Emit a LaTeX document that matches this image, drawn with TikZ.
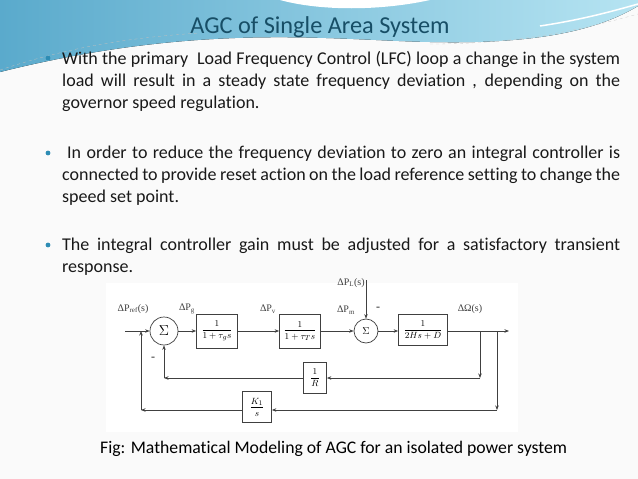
\documentclass[tikz,border=0pt]{standalone}
\usepackage{amsmath}
\usepackage{fontspec}
\setmainfont{Carlito}[Ligatures=NoCommon]
\newfontfamily\figfont{Liberation Serif}
\usetikzlibrary{arrows.meta, calc, positioning}
\definecolor{titleblue}{RGB}{23,78,102}
\definecolor{bulletblue}{RGB}{45,140,180}
\definecolor{waveleft}{RGB}{90,170,204}
\definecolor{waveright}{RGB}{182,228,242}
\definecolor{bodytext}{RGB}{25,25,25}

\begin{document}
\begin{tikzpicture}[x=1pt, y=-1pt,
    blk/.style={draw=black!75, line width=0.7pt, minimum width=41pt, minimum height=34pt, inner sep=0pt, font=\fontsize{9.5}{11}\selectfont},
    sumnode/.style={draw=black!75, line width=0.7pt, circle, minimum size=28pt, inner sep=0pt},
    sig/.style={font=\figfont\fontsize{10}{11}\selectfont, text=black!75, inner sep=0pt},
    wire/.style={line width=0.7pt, draw=black!75, -{Stealth[length=4.5pt, width=3.5pt]}},
    bullet/.style={circle, fill=bulletblue, inner sep=0pt, minimum size=4.8pt},
    bodyline/.style={anchor=base west, inner sep=0pt, font=\fontsize{18}{22}\selectfont, text=bodytext}]
             % slide and header wave
             \useasboundingbox (0,0) rectangle (638,479);
             \fill[black!2] (0,0) rectangle (638,479);
             \fill[left color=waveleft, right color=waveright] (0,0) -- (638,0) -- (638,6) .. controls (590,35) and (520,44) .. (430,42) .. controls (330,40) and (200,22) .. (0,72) -- cycle;
             \fill[white] (280,0) .. controls (320,11) and (380,11) .. (430,0) -- cycle;
             \draw[white, line width=1.5pt] (540,26) .. controls (580,20) and (610,12) .. (638,4);
             \draw[black!25, line width=0.3pt, dashed] (0,70) .. controls (60,50) and (120,38) .. (200,33);
             \draw[black!20, line width=0.3pt, dashed] (430,44) .. controls (520,44) and (580,30) .. (638,14);
             \node[anchor=base, font=\fontsize{24.3}{28}\selectfont, text=titleblue, inner sep=0pt] (title) at (320,34) {AGC of Single Area System};

             % bullet text
             \node[bullet] (dot1) at (48,58) {};
             \node[bodyline] (l11) at (62,64) {\makebox[558pt][s]{With the primary \ Load Frequency Control (LFC) loop a change in the system}};
             \node[bodyline] (l12) at (62,86) {\makebox[558pt][s]{load will result in a steady state frequency deviation , depending on the}};
             \node[bodyline] (l13) at (62,108) {governor speed regulation.};
             \node[bullet] (dot2) at (48,153) {};
             \node[bodyline] (l21) at (67,158) {\makebox[553pt][s]{In order to reduce the frequency deviation to zero an integral controller is}};
             \node[bodyline] (l22) at (62,180) {\makebox[558pt][s]{connected to provide reset action on the load reference setting to change the}};
             \node[bodyline] (l23) at (62,202) {speed set point.};
             \node[bullet] (dot3) at (48,245) {};
             \node[bodyline] (l31) at (62,250) {\makebox[558pt][s]{The integral controller gain must be adjusted for a satisfactory transient}};
             \node[bodyline] (l32) at (62,272) {response.};

             % block diagram
             \fill[white] (106,283) rectangle (518,432);
             \node[sumnode] (sum1) at (164,331) {\Large$\Sigma$};
             \node[blk] (gov) at (217,331) {$\dfrac{1}{1+\tau_g s}$};
             \node[blk] (tur) at (300,331) {$\dfrac{1}{1+\tau_T s}$};
             \node[sumnode, minimum size=24pt] (sum2) at (366,331) {$\Sigma$};
             \node[blk, minimum width=49pt, minimum height=31pt] (gen) at (423,330) {$\dfrac{1}{2Hs+D}$};
             \node[blk, minimum width=23pt, minimum height=31pt] (droop) at (315,378) {$\dfrac{1}{R}$};
             \node[blk, minimum width=29pt, minimum height=31pt] (integ) at (257,407) {$\dfrac{K_1}{s}$};
             \coordinate (in) at (125,331);
             \coordinate (out) at (509,331);
             \coordinate (br1) at (480,331);
             \coordinate (br2) at (497,331);
             \coordinate (ret) at (141,410);
             \coordinate (load) at (366,280);

             \draw[wire] (in) -- (sum1.west);
             \draw[wire] (sum1.east) -- (gov.west);
             \draw[wire] (gov.east) -- (tur.west);
             \draw[wire] (tur.east) -- (sum2.west);
             \draw[wire] (sum2.east) -- (gen.west |- sum2.east);
             \draw[wire] (gen.east |- out) -- (out);
             \draw[wire] (load) -- (sum2.north);
             \draw[wire] (br1) -- (br1 |- droop.east);
             \draw[wire] (br1 |- droop.east) -- (droop.east);
             \draw[wire] (droop.west) -- (sum1 |- droop.west);
             \draw[wire] (sum1 |- droop.west) -- (sum1.south);
             \draw[wire] (br2) -- (br2 |- ret);
             \draw[wire] (br2 |- ret) -- (integ.east |- ret);
             \draw[wire] (integ.west |- ret) -- (ret);
             \draw[wire] (ret) -- (ret |- in);

             \node[sig] (pref) at (133,309) {ΔP\textsubscript{ref}(s)};
             \node[sig] (pg) at (187,309) {ΔP\textsubscript{g}};
             \node[sig] (pv) at (268,309) {ΔP\textsubscript{v}};
             \node[sig] (pm) at (346,310) {ΔP\textsubscript{m}};
             \node[sig] (pl) at (351,283) {ΔP\textsubscript{L}(s)};
             \node[sig] (om) at (470,309) {ΔΩ(s)};
             \node[sig, font=\figfont\bfseries\fontsize{12}{12}\selectfont] (neg1) at (378,309) {-};
             \node[sig, font=\figfont\bfseries\fontsize{12}{12}\selectfont] (neg2) at (153,359) {-};

             \node[anchor=base west, font=\fontsize{17.7}{20}\selectfont, inner sep=0pt] (cap) at (100,453) {Fig: Mathematical Modeling of AGC for an isolated power system};
         \end{tikzpicture}
\end{document}
